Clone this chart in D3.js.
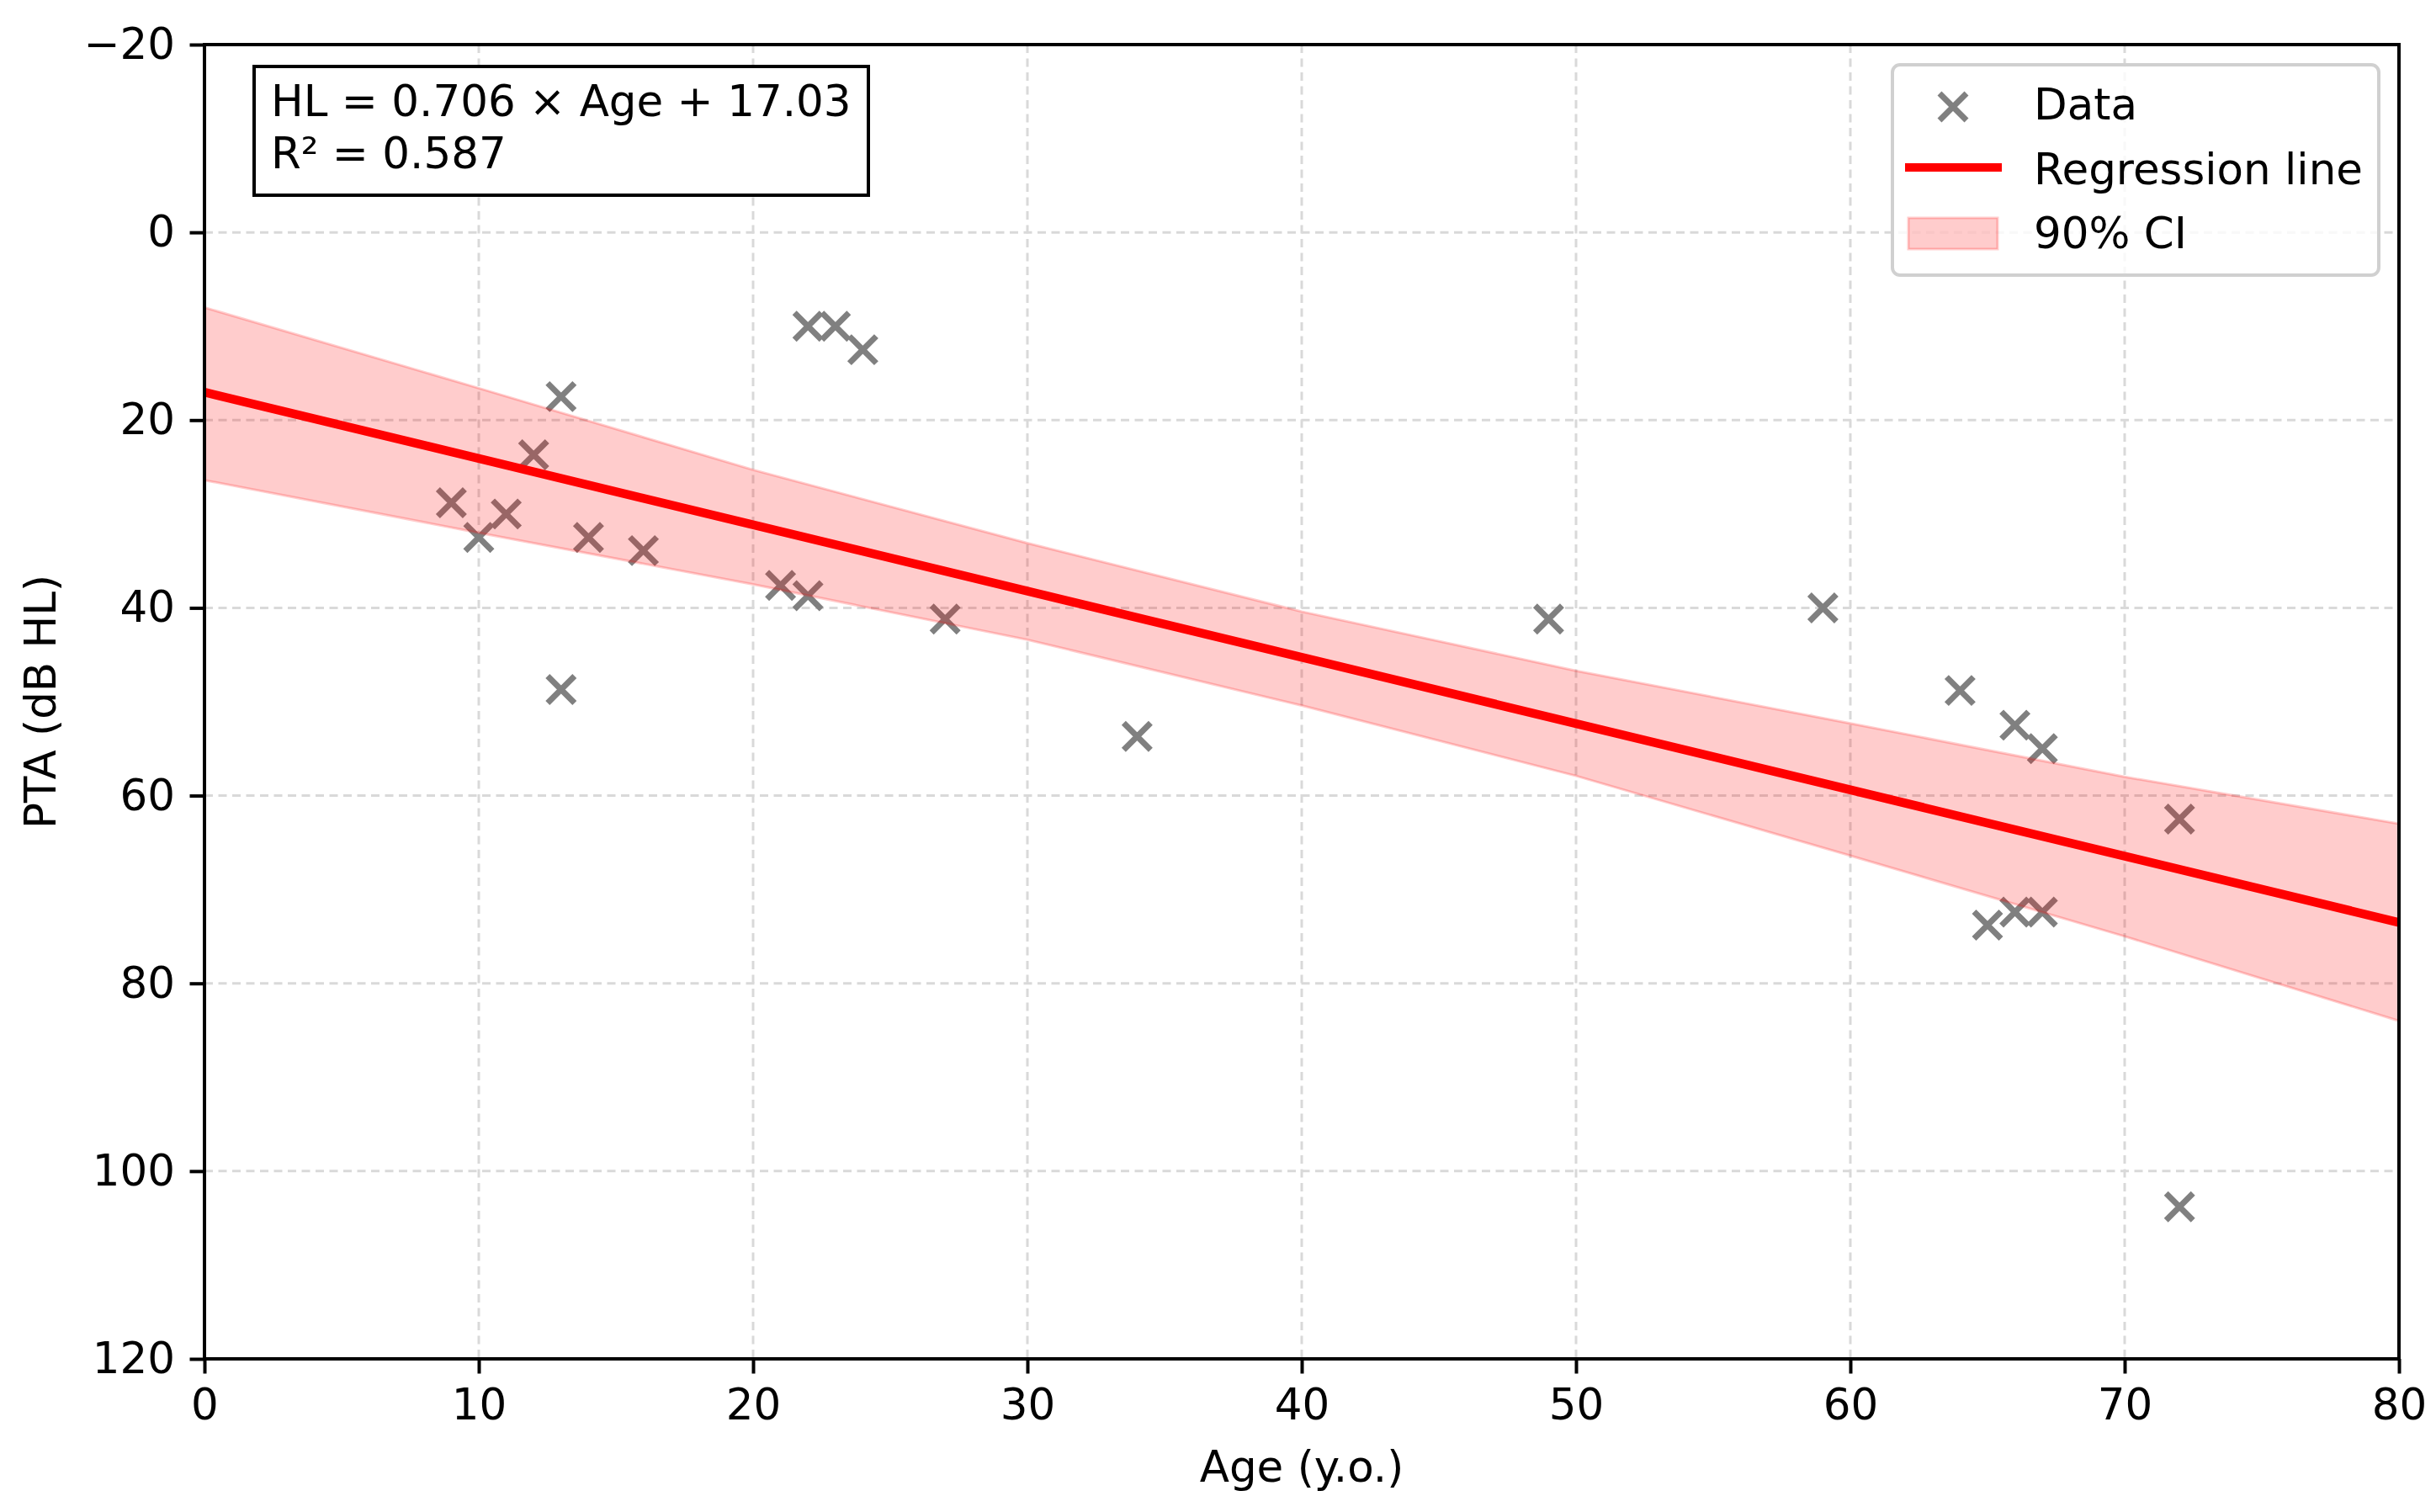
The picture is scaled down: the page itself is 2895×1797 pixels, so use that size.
<!DOCTYPE html>
<html>
<head>
<meta charset="utf-8">
<script src="https://cdn.jsdelivr.net/npm/d3@7"></script>
<style>
  body { margin: 0; background: #fff; }
  text { font-family: "DejaVu Sans", sans-serif; }
</style>
</head>
<body>
<div id="chart-area"></div>
<script>
/*
*    PTA vs age regression
*/

// data
var ages = [9, 10, 11, 12, 13, 13, 14, 16, 21, 22, 22, 23, 24, 27, 34, 49, 59, 64, 65, 66, 66, 67, 67, 72, 72];
var pta  = [28.8, 32.5, 30.0, 23.7, 17.5, 48.7, 32.5, 33.9, 37.6, 38.7, 10.0, 10.0, 12.5, 41.2, 53.7, 41.2, 40.0, 48.8, 73.8, 52.5, 72.4, 55.0, 72.4, 62.5, 103.8];

// fit from the chart's own equation
var slope = 0.706;
var intercept = 17.03;

// 90% CI edges, read at each grid age
var ciAges  = [0, 10, 20, 30, 40, 50, 60, 70, 80];
var ciUpper = [8.0, 16.6, 25.3, 33.1, 40.4, 46.7, 52.3, 58.0, 63.0];
var ciLower = [26.4, 32.0, 37.5, 43.4, 50.4, 57.9, 66.4, 75.0, 84.0];

var xTicks = [0, 10, 20, 30, 40, 50, 60, 70, 80];
var yTicks = [-20, 0, 20, 40, 60, 80, 100, 120];

var eqText = "HL = 0.706 \u00d7 Age + 17.03";
var r2Text = "R\u00b2 = 0.587";

var margin = {top: 53, right: 44, bottom: 182, left: 243};
var totalW = 2895, totalH = 1797;
var width = totalW - margin.left - margin.right;
var height = totalH - margin.top - margin.bottom;
var fs = "51.5px";

var svg = d3.select("#chart-area")
    .append("svg")
    .attr("width", totalW)
    .attr("height", totalH)
    .style("display", "block");

svg.append("rect").attr("width", totalW).attr("height", totalH).attr("fill", "#fff");

var g = svg.append("g")
    .attr("transform", "translate(" + margin.left + ", " + margin.top + ")");

var x = d3.scaleLinear().domain([0, 80]).range([0, width]);
var y = d3.scaleLinear().domain([-20, 120]).range([0, height]);

// grid
g.append("g").selectAll("line").data(xTicks).enter().append("line")
    .attr("x1", d => x(d)).attr("x2", d => x(d))
    .attr("y1", 0).attr("y2", height)
    .attr("stroke", "#d9d9d9").attr("stroke-width", 3).attr("stroke-dasharray", "10,6.5");
g.append("g").selectAll("line").data(yTicks).enter().append("line")
    .attr("x1", 0).attr("x2", width)
    .attr("y1", d => y(d)).attr("y2", d => y(d))
    .attr("stroke", "#d9d9d9").attr("stroke-width", 3).attr("stroke-dasharray", "10,6.5");

var clip = svg.append("defs").append("clipPath").attr("id", "plotclip");
clip.append("rect").attr("width", width).attr("height", height);

var plot = g.append("g").attr("clip-path", "url(#plotclip)");

// data markers (under the band)
var pts = ages.map((a, i) => ({age: a, hl: pta[i]}));
var ms = 16;
function cross(cx, cy) {
    return "M" + (cx - ms) + "," + (cy - ms) + "L" + (cx + ms) + "," + (cy + ms) +
           "M" + (cx - ms) + "," + (cy + ms) + "L" + (cx + ms) + "," + (cy - ms);
}
plot.append("g").selectAll("path").data(pts).enter().append("path")
    .attr("d", d => cross(x(d.age), y(d.hl)))
    .attr("stroke", "#808080")
    .attr("stroke-width", 7)
    .attr("fill", "none");

// CI band
var band = ciAges.map((a, i) => ({age: a, lo: ciLower[i], hi: ciUpper[i]}));
var area = d3.area()
    .x(d => x(d.age))
    .y0(d => y(d.lo))
    .y1(d => y(d.hi));
plot.append("path")
    .datum(band)
    .attr("d", area)
    .attr("fill", "red").attr("fill-opacity", 0.2)
    .attr("stroke", "red").attr("stroke-opacity", 0.2).attr("stroke-width", 3);

// regression line
var regLine = d3.line().x(d => x(d)).y(d => y(slope * d + intercept));
plot.append("path")
    .datum(x.domain())
    .attr("d", regLine)
    .attr("stroke", "red")
    .attr("stroke-width", 10.5)
    .attr("fill", "none");

// axes
var xAxisCall = d3.axisBottom(x).tickValues(xTicks).tickSize(17.5).tickPadding(17.5);
var xa = g.append("g")
    .attr("class", "bottom axis")
    .attr("transform", "translate(0, " + height + ")")
    .call(xAxisCall);
xa.select(".domain").remove();
xa.selectAll("line").attr("stroke", "#000").attr("stroke-width", 4);
xa.selectAll("text").attr("font-size", fs).attr("fill", "#000")
    .attr("font-family", "DejaVu Sans");

var yAxisCall = d3.axisLeft(y).tickValues(yTicks).tickSize(17.5).tickPadding(17.5);
var ya = g.append("g")
    .attr("class", "left axis")
    .call(yAxisCall);
ya.select(".domain").remove();
ya.selectAll("line").attr("stroke", "#000").attr("stroke-width", 4);
ya.selectAll("text").attr("font-size", fs).attr("fill", "#000")
    .attr("font-family", "DejaVu Sans");

// spines
g.append("rect")
    .attr("width", width).attr("height", height)
    .attr("fill", "none").attr("stroke", "#000").attr("stroke-width", 4);

// axis labels
g.append("text")
    .attr("x", width / 2)
    .attr("y", height + 146)
    .attr("font-size", fs)
    .attr("text-anchor", "middle")
    .text("Age (y.o.)");

g.append("text")
    .attr("x", -(height / 2))
    .attr("y", -177)
    .attr("font-size", fs)
    .attr("text-anchor", "middle")
    .attr("transform", "rotate(-90)")
    .text("PTA (dB HL)");

// equation box
var eq = g.append("g").attr("transform", "translate(59, 26)");
eq.append("rect")
    .attr("width", 730).attr("height", 153)
    .attr("fill", "#fff").attr("stroke", "#000").attr("stroke-width", 4);
eq.append("text").attr("x", 20).attr("y", 59).attr("font-size", fs).text(eqText);
eq.append("text").attr("x", 20).attr("y", 121).attr("font-size", fs).text(r2Text);

// legend
var lg = g.append("g").attr("transform", "translate(" + (2249 - margin.left) + ", " + (77 - margin.top) + ")");
lg.append("rect")
    .attr("width", 578).attr("height", 250)
    .attr("rx", 9).attr("ry", 9)
    .attr("fill", "#fff").attr("fill-opacity", 0.8)
    .attr("stroke", "#d0d0d0").attr("stroke-width", 4);

lg.append("path")
    .attr("d", cross(72, 50))
    .attr("stroke", "#808080").attr("stroke-width", 7);
lg.append("line")
    .attr("x1", 15).attr("x2", 130).attr("y1", 122).attr("y2", 122)
    .attr("stroke", "red").attr("stroke-width", 10);
lg.append("rect")
    .attr("x", 19).attr("y", 182).attr("width", 106).attr("height", 37)
    .attr("fill", "red").attr("fill-opacity", 0.2)
    .attr("stroke", "red").attr("stroke-opacity", 0.2).attr("stroke-width", 3);

var legendNames = ["Data", "Regression line", "90% CI"];
lg.selectAll(".ltxt").data(legendNames).enter().append("text")
    .attr("class", "ltxt")
    .attr("x", 168)
    .attr("y", (d, i) => 65 + i * 76.5)
    .attr("font-size", fs)
    .text(d => d);
</script>
</body>
</html>
